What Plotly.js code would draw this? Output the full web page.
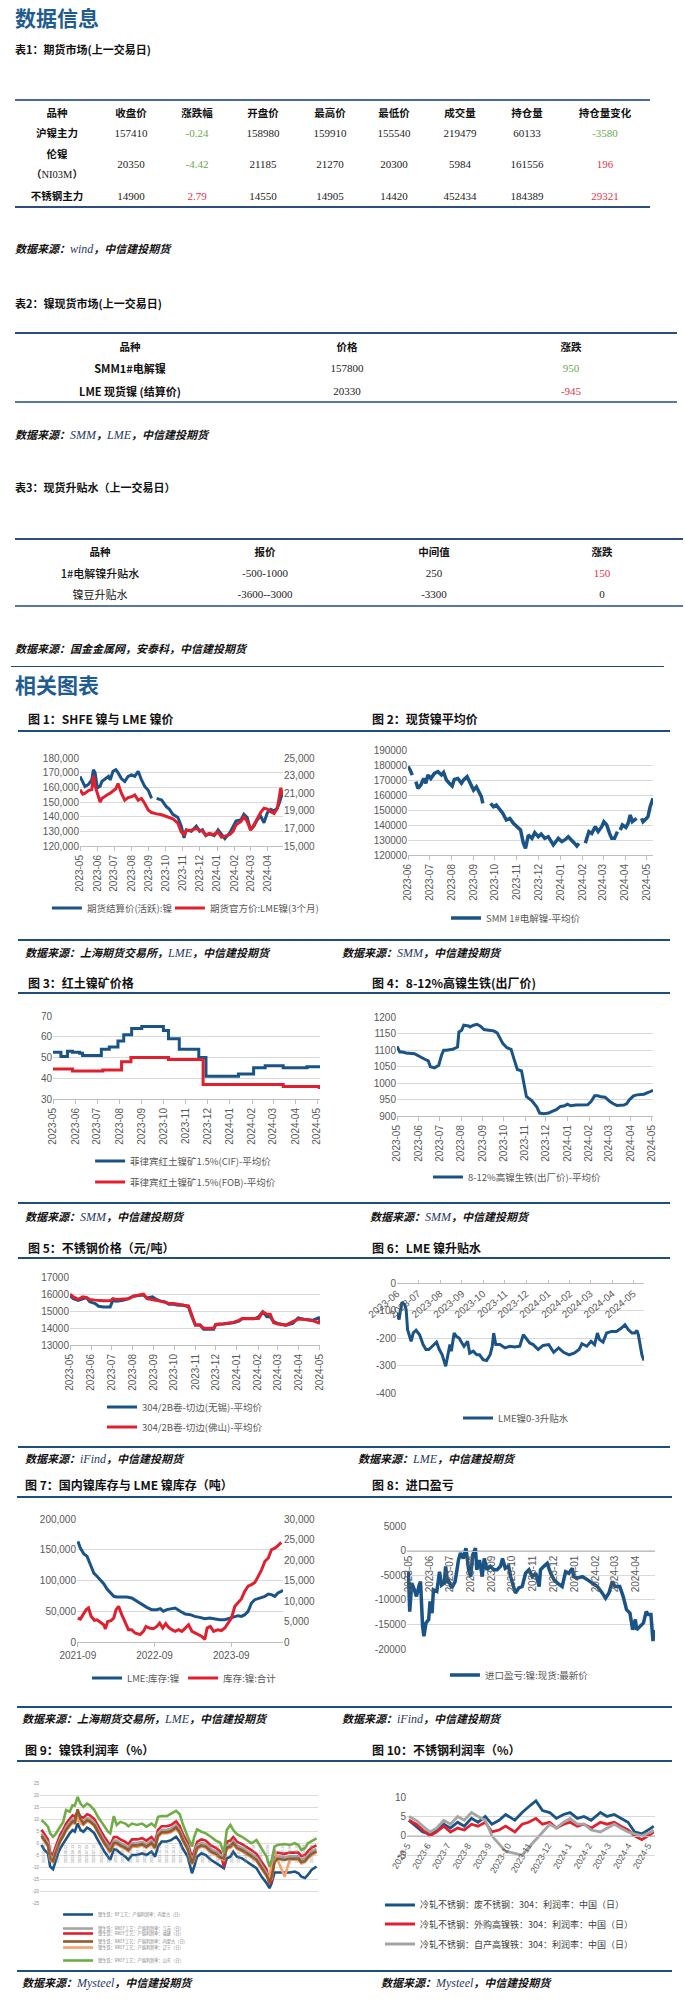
<!DOCTYPE html>
<html><head><meta charset="utf-8">
<script src="https://cdn.plot.ly/plotly-3.0.1.min.js"></script>
<style>
html,body{margin:0;padding:0;background:#fff;}
body{width:685px;height:2005px;position:relative;overflow:hidden;font-family:"Noto Sans CJK SC","Liberation Sans",sans-serif;color:#111;}
.tx{position:absolute;white-space:nowrap;line-height:1;}
.ln{position:absolute;height:0;}
.lat{font-family:"Liberation Serif",serif;font-weight:400;color:#1f3864;font-size:12px;}
.ser{font-family:"Liberation Serif",serif;font-weight:400;}
.chart{position:absolute;}
</style></head>
<body>
<div id="charts"></div>
<script>
// ---------------- table data ----------------
const t1Header = ['品种','收盘价','涨跌幅','开盘价','最高价','最低价','成交量','持仓量','持仓量变化'];
const t1Names  = ['沪镍主力','伦镍','不锈钢主力'];
const t1Close  = [157410, 20350, 14900];
const t1Chg    = ['-0.24', '-4.42', '2.79'];
const t1Open   = [158980, 21185, 14550];
const t1High   = [159910, 21270, 14905];
const t1Low    = [155540, 20300, 14420];
const t1Vol    = [219479, 5984, 452434];
const t1OI     = [60133, 161556, 184389];
const t1OIChg  = [-3580, 196, 29321];

const t2Header = ['品种','价格','涨跌'];
const t2Names  = ['SMM1#电解镍','LME 现货镍 (结算价)'];
const t2Price  = [157800, 20330];
const t2Chg    = [950, -945];

const t3Header = ['品种','报价','中间值','涨跌'];
const t3Names  = ['1#电解镍升贴水','镍豆升贴水'];
const t3Quote  = ['-500-1000','-3600--3000'];
const t3Mid    = [250, -3300];
const t3Chg    = [150, 0];

// ---------------- chart data ----------------
// Fig 1
const fig1Dates = ['2023-05-01','2023-05-06','2023-05-10','2023-05-16','2023-05-22','2023-05-25','2023-05-28','2023-06-01','2023-06-06','2023-06-09','2023-06-15','2023-06-21','2023-06-24','2023-06-29','2023-07-04','2023-07-08','2023-07-14','2023-07-20','2023-07-26','2023-08-01','2023-08-07','2023-08-13','2023-08-19','2023-08-25','2023-08-31','2023-09-06','2023-09-10','2023-09-15','2023-09-24','2023-10-02','2023-10-08','2023-10-14','2023-10-23','2023-10-29','2023-11-03','2023-11-07','2023-11-16','2023-11-25','2023-12-01','2023-12-06','2023-12-12','2023-12-18','2023-12-27','2024-01-03','2024-01-09','2024-01-15','2024-01-24','2024-01-30','2024-02-04','2024-02-13','2024-02-18','2024-02-24','2024-03-01','2024-03-07','2024-03-13','2024-03-19','2024-03-25','2024-03-31','2024-04-06','2024-04-12','2024-04-18','2024-04-21','2024-04-24','2024-04-27'];
const fig1Shfe = [167400,164000,160500,162000,165000,172000,170000, 159700,160800,164000,166000,167500,165000,171000, 172000,170000,166000,164000,167500, 168500,167500,171000,165000,160500,158000, 152500,null,152500,151400, 147000,145000,141600,139400,133600, 125500,131000,130000,133600, 130000,131000,127000,128500,127000, 131000,128000,125000,129000,133600, 137000,138000,141600,139400, 131000,133600,138000,140400,135800,142700, 145000,143800,146000,149000,152500,156000];
const fig1Lme = [21400,20900,21000,21300,21400,23000,21800, 21000,20000,20400,20700,20900,21000,21300, 21500,22100,21000,20200,20500, 20600,20800,20200,20400,19800,19100, 18800,18700,18650,18550, 18400,18200,18100,17600,16600, 16300,16800,16800,17000, 16800,16700,16200,16400,16300, 16600,16000,16100,16300,16700, 17400,17800,18300,17800, 16800,17400,18100,18800,19300,19200, 18900,18700,19300,20500,21600,20800];
const fig1LeftTicks = [120000,130000,140000,150000,160000,170000,180000];
const fig1RightTicks = [15000,17000,19000,21000,23000,25000];

// Fig 2
const fig2Dates = ['2023-06-01','2023-06-04','2023-06-07','2023-06-10','2023-06-12','2023-06-15','2023-06-19','2023-06-23','2023-06-26','2023-06-29','2023-07-03','2023-07-08','2023-07-13','2023-07-18','2023-07-21','2023-07-25','2023-07-29','2023-08-02','2023-08-05','2023-08-10','2023-08-15','2023-08-18','2023-08-23','2023-08-27','2023-09-01','2023-09-05','2023-09-09','2023-09-12','2023-09-14','2023-09-20','2023-09-25','2023-09-29','2023-10-03','2023-10-08','2023-10-12','2023-10-17','2023-10-22','2023-10-27','2023-11-02','2023-11-06','2023-11-10','2023-11-13','2023-11-17','2023-11-22','2023-11-26','2023-12-01','2023-12-05','2023-12-10','2023-12-15','2023-12-22','2023-12-29','2024-01-03','2024-01-08','2024-01-12','2024-01-20','2024-01-24','2024-01-27','2024-02-01','2024-02-05','2024-02-10','2024-02-14','2024-02-19','2024-02-23','2024-02-28','2024-03-02','2024-03-06','2024-03-10','2024-03-13','2024-03-17','2024-03-21','2024-03-23','2024-03-25','2024-03-28','2024-04-02','2024-04-05','2024-04-08','2024-04-11','2024-04-17','2024-04-20','2024-04-24','2024-04-26','2024-05-01','2024-05-03','2024-05-06','2024-05-10'];
const fig2Smm = [179000,176700,173300,null,168900,164400,166700,171000,167800,173300, 171000,174400,175600,173300,175000,170000,167800, 166000,170400,171000,167800,170000,172200,167800, 163300,165500,161000,158900,154400,null,154400,152200, 153300,150000,147800,143300,144400,141100, 138900,136700,127800,124400,133300,131100,134900, 132200,134000,131100,132200,126700,131100, 128900,130400,132200,128200,126000,127800, null,127800,135600,134400,138900,135600,138900, 142200,140000,134400,131100,131100,135600,null,136700,140000, 138400,141100,146700,142200,144400,null,144400,142200, 144400,145600,152200,157800];

// Fig 3
const fig3CifDates = ['2023-05-01','2023-05-12','2023-05-21','2023-05-28','2023-06-07','2023-06-11','2023-07-07','2023-07-18','2023-07-30','2023-08-07','2023-08-18','2023-09-01','2023-10-01','2023-10-08','2023-10-23','2023-11-19','2023-11-29','2024-01-13','2024-02-03','2024-02-19','2024-03-15','2024-04-17','2024-05-05'];
const fig3Cif = [52.5,50.5,53,52.5,52,51,54,55,58,61,64,65,63,59,54,50,41,42,45,46,45,45.5,45.5];
const fig3FobDates = ['2023-05-01','2023-05-28','2023-07-09','2023-08-04','2023-08-17','2023-10-08','2023-11-25','2024-03-15','2024-05-04','2024-05-05'];
const fig3Fob = [44.5,43.5,44,48,50,49,37,36,35.5,35.5];

// Fig 4
const fig4Dates = ['2023-05-01','2023-05-05','2023-05-09','2023-05-14','2023-05-26','2023-06-03','2023-06-10','2023-06-15','2023-06-18','2023-06-24','2023-06-30','2023-07-04','2023-07-07','2023-07-11','2023-07-20','2023-07-27','2023-07-29','2023-08-02','2023-08-05','2023-08-12','2023-08-14','2023-08-19','2023-08-24','2023-08-29','2023-09-03','2023-09-10','2023-09-17','2023-09-22','2023-09-26','2023-09-30','2023-10-06','2023-10-12','2023-10-16','2023-10-21','2023-10-27','2023-10-31','2023-11-03','2023-11-06','2023-11-11','2023-11-18','2023-11-22','2023-11-28','2023-12-05','2023-12-10','2023-12-16','2023-12-22','2023-12-28','2024-01-01','2024-01-06','2024-01-13','2024-01-30','2024-02-04','2024-02-09','2024-02-14','2024-02-18','2024-02-24','2024-02-28','2024-03-02','2024-03-07','2024-03-12','2024-03-22','2024-03-26','2024-03-30','2024-04-05','2024-04-10','2024-04-20','2024-04-27','2024-05-03'];
const fig4Npi = [1111,1094,1094,1091,1089, 1079,1072,1067,1049,1046,1054, 1084,1099,1099,1102,1109,1155, 1160,1175,1173,1170,1175,1178,1172, 1162,1160,1158,1152,1135,1120, 1107,1102,1074,1041,1037,989, 959,954,946,927,909,907, 909,914,919,929,931, 936,931,933,934, 944,961,961,958,957,949, 944,937,932,933,937,949, 961,964,966,972, 978];

// Fig 5
const fig5Dates = ['2023-05-01','2023-05-06','2023-05-13','2023-05-20','2023-05-25','2023-05-30','2023-06-07','2023-06-12','2023-06-19','2023-06-29','2023-07-03','2023-07-08','2023-07-18','2023-07-26','2023-08-02','2023-08-12','2023-08-17','2023-08-22','2023-08-30','2023-09-04','2023-09-11','2023-09-18','2023-09-23','2023-09-30','2023-10-07','2023-10-15','2023-10-22','2023-10-27','2023-11-01','2023-11-08','2023-11-13','2023-11-28','2023-12-01','2023-12-12','2023-12-27','2024-01-04','2024-01-09','2024-01-26','2024-02-02','2024-02-08','2024-02-14','2024-02-19','2024-02-24','2024-03-01','2024-03-13','2024-03-23','2024-03-31','2024-04-08','2024-04-22','2024-04-30','2024-05-02'];
const fig5Wuxi = [15900,15730,15630,15730,15790,15540, 15440,15280,15240,15240, 15630,15580,15630,15730, 15870,15930,15930,15770,15830, 15700,15580,15540,15400,15400, 15340,15340,15240,14660, 14170,14170,13920,13920, 14210,14230,14310, 14410,14560,14540, 14660,14950,14660,14660,14370, 14270,14170,14270,14600, 14520,14460,14600, 14500];
const fig5Foshan = [15990,15830,15680,15830,15780,15680, 15640,15620,15600,15600, 15730,15680,15690,15720, 15870,15930,15990,15730,15650, 15630,15580,15520,15440,15440, 15380,15340,15300,14760, 14170,14170,13980,13980, 14210,14250,14330, 14450,14560,14560, 14560,14950,14810,14810,14310, 14230,14170,14370,14520, 14520,14420,14300, 14500];

// Fig 6
const fig6Dates = ['2023-06-01','2023-06-04','2023-06-06','2023-06-08','2023-06-12','2023-06-14','2023-06-16','2023-06-19','2023-06-21','2023-06-24','2023-06-28','2023-07-03','2023-07-08','2023-07-12','2023-07-16','2023-07-21','2023-07-27','2023-07-31','2023-08-04','2023-08-09','2023-08-12','2023-08-15','2023-08-17','2023-08-21','2023-08-24','2023-08-28','2023-09-01','2023-09-04','2023-09-09','2023-09-12','2023-09-17','2023-09-22','2023-09-26','2023-10-01','2023-10-06','2023-10-11','2023-10-14','2023-10-16','2023-10-19','2023-10-25','2023-11-01','2023-11-08','2023-11-15','2023-11-22','2023-11-27','2023-12-01','2023-12-06','2023-12-11','2023-12-18','2023-12-25','2024-01-02','2024-01-09','2024-01-16','2024-01-23','2024-01-31','2024-02-07','2024-02-14','2024-02-18','2024-02-25','2024-03-02','2024-03-07','2024-03-11','2024-03-14','2024-03-19','2024-03-24','2024-03-31','2024-04-07','2024-04-14','2024-04-19','2024-04-24','2024-04-29','2024-05-03','2024-05-06','2024-05-08','2024-05-10','2024-05-13','2024-05-16'];
const fig6Spread = [-109,-133,-97,-70,-79,-97,-170,-200,-212,-182,-172, -188,-224,-242,-242,-230,-215,-242, -261,-303,-261,-224,-248,-182,-194,-200, -218,-230,-212,-255,-248,-261,-261, -279,-282,-261,-230,-182,-224,-224, -236,-230,-233,-230,-188, -200,-218,-224,-242,-227, -224,-252,-236,-252,-261, -255,-242,-221,-230, -212,-224,-182,-206,-215,-182,-176, -176,-164,-152,-170,-182, -182,-173,-188,-224,-261,-282];
const fig6TickVals = [0,-100,-200,-300,-400];
const fig6TickText = ['0','-100','-200','-300','-400'];

// Fig 7
const fig7LmeDates = ['2021-09-01','2021-09-13','2021-09-29','2021-10-15','2021-10-31','2021-11-16','2021-12-01','2021-12-17','2022-01-02','2022-01-18','2022-02-03','2022-02-19','2022-03-05','2022-03-29','2022-04-22','2022-05-15','2022-06-08','2022-07-02','2022-07-26','2022-08-18','2022-09-12','2022-09-28','2022-10-13','2022-10-29','2022-11-22','2022-12-08','2023-01-01','2023-01-25','2023-02-18','2023-03-11','2023-04-04','2023-04-28','2023-05-21','2023-06-14','2023-07-08','2023-08-01','2023-08-25','2023-09-18','2023-10-03','2023-10-19','2023-11-04','2023-11-20','2023-12-06','2023-12-22','2024-01-07','2024-01-23','2024-02-08','2024-02-24','2024-03-10','2024-03-26','2024-04-10','2024-04-26','2024-05-04'];
const fig7Lme = [163700,152800,143600,139300,125700,112000,106800,101400, 94900,86200,79700,74300,73200,73200,73200,71500,66000,60700,56400,52600,52600,54200,49900,52600,54200,55300, 49900,45500,44400,41700,40100,37900,39000,37400,36300,36300,39000,41700,42800,41700,44400,49900,63400,68800, 70500,71500,74300,78000,77000,74300,79700,82400,84000];
const fig7CnDates = ['2021-09-01','2021-09-13','2021-09-26','2021-10-11','2021-10-22','2021-11-03','2021-11-19','2021-12-01','2021-12-17','2022-01-02','2022-01-10','2022-01-21','2022-02-06','2022-02-19','2022-03-02','2022-03-14','2022-03-29','2022-04-14','2022-04-30','2022-05-15','2022-05-31','2022-06-24','2022-07-10','2022-07-22','2022-08-07','2022-08-26','2022-09-12','2022-09-25','2022-10-10','2022-10-24','2022-11-06','2022-11-22','2022-12-08','2022-12-24','2023-01-09','2023-01-25','2023-02-10','2023-02-26','2023-03-19','2023-04-12','2023-04-28','2023-05-09','2023-05-24','2023-06-09','2023-06-30','2023-07-16','2023-08-01','2023-08-17','2023-09-02','2023-09-18','2023-10-03','2023-10-19','2023-11-04','2023-11-20','2023-12-06','2023-12-22','2024-01-07','2024-01-23','2024-02-08','2024-02-24','2024-03-10','2024-03-26','2024-04-10','2024-04-26'];
const fig7Cn = [5850,5600,6670,7900,8300,6300,5300,5400,4800, 4200,3200,5000,5200,5850,7900,8700,6670,4600,3000,3000,2200,1800,2600,3800,3400,3250,3800,4600,3400,4500,3600,3000,2600,3000, 2600,3400,4200,2600,2000,1400,600,3400,3800,2600,3000,2800,3400,4600,5850,8700,9500,10500,12400,13600,14000,14500, 16000,17600,19700,20500,22500,22900,23500,24300];

// Fig 8
const fig8Dates = ['2023-04-29','2023-05-01','2023-05-03','2023-05-06','2023-05-09','2023-05-13','2023-05-17','2023-05-19','2023-05-22','2023-05-24','2023-05-27','2023-05-31','2023-06-02','2023-06-05','2023-06-07','2023-06-12','2023-06-16','2023-06-19','2023-06-23','2023-06-25','2023-06-28','2023-06-30','2023-07-04','2023-07-09','2023-07-14','2023-07-17','2023-07-21','2023-07-25','2023-07-29','2023-08-01','2023-08-04','2023-08-08','2023-08-10','2023-08-14','2023-08-18','2023-08-21','2023-08-25','2023-08-30','2023-09-04','2023-09-09','2023-09-14','2023-09-17','2023-09-21','2023-09-26','2023-09-29','2023-10-02','2023-10-06','2023-10-11','2023-10-16','2023-10-21','2023-10-26','2023-10-31','2023-11-05','2023-11-10','2023-11-12','2023-11-17','2023-11-22','2023-11-27','2023-12-02','2023-12-07','2023-12-14','2023-12-19','2023-12-24','2023-12-29','2023-12-31','2024-01-05','2024-01-13','2024-01-20','2024-01-28','2024-02-04','2024-02-11','2024-02-16','2024-02-21','2024-02-26','2024-03-01','2024-03-08','2024-03-13','2024-03-18','2024-03-23','2024-03-27','2024-03-31','2024-04-02','2024-04-07','2024-04-12','2024-04-16','2024-04-19','2024-04-23','2024-04-26','2024-04-28'];
const fig8Profit = [-5300,-4300,-12400,-6600,-7600,-9300,-7000,-6300,-15400,-17400,-14700,-14000, -10300,-12700,-8000,-8300,-4300,-7000,-6600,-3200,-6600,-6300, -7600,-6300,-1900,-500,-1600,500,-3900, -5300,-900,500,-3900,-1900,-5300,-1600,-3900,-3200, -3900,-3900,-3200,-1600,-3600,-3200,-5300, -6600,-8600,-7600,-7300,-4600,-3900,-5300, -4600,-7300,-3900,-3200,-2600,-4600, -5900,-6600,-7300,-4300,-4600,-3600,-5300, -5600,-5300,-5900,-6600, -7300,-8600,-9700,-8600,-6300, -7300,-7300,-9300,-12000,-12700,-16100,-14000, -16100,-15400,-14700,-12400,-13000,-13000,-18400,-16100];
const fig8TickVals = [5000,0,-5000,-10000,-15000,-20000];
const fig8TickText = ['5000','0','-5000','-10000','-15000','-20000'];

// Fig 9
const fig9Dates = ['2023-05-01','2023-05-05','2023-05-10','2023-05-13','2023-05-17','2023-05-20','2023-05-24','2023-05-27','2023-05-31','2023-06-04','2023-06-09','2023-06-13','2023-06-16','2023-06-20','2023-06-24','2023-06-28','2023-07-03','2023-07-07','2023-07-13','2023-07-18','2023-07-23','2023-07-27','2023-08-01','2023-08-04','2023-08-09','2023-08-13','2023-08-18','2023-08-25','2023-08-29','2023-09-03','2023-09-10','2023-09-17','2023-09-23','2023-09-30','2023-10-05','2023-10-09','2023-10-14','2023-10-21','2023-10-27','2023-11-03','2023-11-08','2023-11-12','2023-11-19','2023-11-25','2023-11-28','2023-12-02','2023-12-08','2023-12-14','2023-12-21','2023-12-28','2024-01-03','2024-01-08','2024-01-12','2024-01-17','2024-01-21','2024-01-26','2024-02-02','2024-02-08','2024-02-15','2024-02-22','2024-02-29','2024-03-07','2024-03-11','2024-03-14','2024-03-18','2024-03-22','2024-04-01','2024-04-08','2024-04-15','2024-04-20','2024-04-24','2024-04-29','2024-05-03','2024-05-08','2024-05-15'];
const fig9NmRf = [-0.8,-2.9,-4.3,-9.8,-10.9,-7.7,-4.3,-2.2,-0.1,1.9, 4.0,5.4,4.7,8.1,5.4,4.7,6.4,5.7,4.0,1.2, -1.5,-3.6,-5.7,-7.0,-2.6,-2.9,-4.3,-5.7,-7.0,-5.0, -5.0,-4.3,-5.0,-3.6,-5.7,-1.5,0.6,0.6,1.2,2.6, 0.6,-2.2,-5.7,-12.6,-9.8,-5.7,-4.3,-5.0,-7.0,-8.4, -9.8,-10.5,-6.4,-5.7,-3.6,-5.7,-6.4,-7.7,-9.1,-10.5, -14.0,-16.7,-18.8,-16.7,-12.3,-12.3,-12.6,-12.3,-11.9,-12.6, -14.0,-14.6,-13.3,-11.2,-9.8];
const fig9Fj = [5.5,3.5,1.5,-4,-5,-2,1.5,3.5,5.5,8, 10,11.5,11,13,11,10.5,12,11.5,10,7, 4.5,2.5,0.5,-1,2.5,2.5,1.5,0.5,-0.5,1.5, 1.5,2,1,2.5,0.5,5.5,7,7,7.5,9, 7,4,0,-6,-3.5,0.5,1.5,1,-1,-2, -3.5,-10,0.5,1,2.5,0.5,-0.5,-1.5,-3,-4.5, -8,-11,-17,-16,-5,-4,-4.5,-4,-4,-4, -5.5,-5,-3.5,-2,-1];
const fig9Js = [4,2,0,-5.5,-6.5,-3.5,0,2,4,6.5, 8.5,10,9.5,11.5,9.5,9,10.5,10,8.5,5.5, 3,1,-1,-2.5,1,1,0,-1,-2,0, 0,0.5,-0.5,1,-1,4,5.5,5.5,6,7.5, 5.5,2.5,-1.5,-7.5,-5,-1,0,-0.5,-2.5,-3.5, -5,-5.5,-1,-0.5,1,-1,-2,-3,-4.5,-6, -9.5,-12.5,-16,-15,-7,-5.5,-6,-5.5,-5.5,-5.5, -7,-6.5,-5,-3.5,-2.5];
const fig9Ln = [2.5,0.5,-1.5,-7,-8,-5,-1.5,0.5,2.5,5, 7,8.5,8,10,8,7.5,9,8.5,7,4, 1.5,-0.5,-2.5,-4,-0.5,-0.5,-1.5,-2.5,-3.5,-1.5, -1.5,-1,-2,-0.5,-2.5,2.5,4,4,4.5,6, 4,1,-3,-9,-6.5,-2.5,-1.5,-2,-4,-5, -6.5,-7,-2.5,-2,-0.5,-2.5,-3.5,-4.5,-6,-7.5, -11,-14,-15,-8,-3,-7,-14,-7,-7,-7, -8.5,-8,-6.5,-5,-4];
const fig9NmRkef = [3,1,-1,-6.5,-7.5,-4.5,-1,1,3,5.5, 7.5,9,8.5,14,10,8,9.5,9,7.5,4.5, 2,0,-2,-3.5,0,0,-1,-2,-3,-1, -1,-0.5,-1.5,0,-2,3,4.5,4.5,5,6.5, 4.5,1.5,-2.5,-8.5,-6,-2,-1,-1.5,-3.5,-4.5, -6,-6.5,-2,-1.5,0,-2,-3,-4,-5.5,-7, -10.5,-13.5,-16.5,-14,-8,-6.5,-7,-6.5,-6.5,-6.5, -8,-7.5,-6,-4.5,-3.5];
const fig9Sd = [9.5,8.5,6.8,4.0,2.6,3.5,5.4,7.0,8.8,13.7, 13.0,15.7,15.5,19.2,16.4,15.0,16.4,15.7,13.7,10.9, 8.8,6.8,4.7,4.0,11.2,7.5,8.8,8.1,7.0,8.1, 7.5,8.1,6.8,8.1,6.8,10.9,11.2,11.2,12.3,13.4, 12.0,8.1,2.6,-1.5,2.6,5.7,4.7,4.0,2.6,1.0, 0.1,-4.3,5.4,7.5,5.4,3.7,2.6,1.2,-0.1,1.2, -2.2,-5.7,-9.8,-7.0,-1.5,-0.8,-0.4,-0.8,-0.1,-0.8, -2.9,-2.2,-0.1,0.6,1.9];
const fig9Names = ['镍生铁：BF工艺：产值利润率：内蒙古（日）','镍生铁：RKEF工艺：产值利润率：福建（日）','镍生铁：RKEF工艺：产值利润率：江苏（日）','镍生铁：RKEF工艺：产值利润率：辽宁（日）','镍生铁：RKEF工艺：产值利润率：内蒙古（日）','镍生铁：RKEF工艺：产值利润率：山东（日）'];
const fig9TickVals = [25,20,15,10,5,0,-5,-10,-15,-20,-25];
const fig9TickText = ['25','20','15','10','5','0','-5','-10','-15','-20','-25'];

// Fig 10
const fig10Dates = ['2023-05-04','2023-05-15','2023-05-25','2023-06-05','2023-06-15','2023-06-26','2023-07-06','2023-07-17','2023-07-27','2023-08-07','2023-08-17','2023-08-28','2023-09-07','2023-09-18','2023-09-28','2023-10-12','2023-10-23','2023-11-02','2023-11-13','2023-11-23','2023-12-04','2023-12-14','2023-12-25','2024-01-04','2024-01-15','2024-01-25','2024-02-05','2024-02-19','2024-02-29','2024-03-11','2024-03-21','2024-04-01','2024-04-11','2024-04-22','2024-05-06','2024-05-10'];
const fig10Scrap = [4,2.5,1,0.5,1.5,3,2,3.5,2.5,4.5, 3.5,5,3,4,5.5,4,6,7.5,9,6.5, 6,4.5,5.5,6,4.5,5,4,6,5,5.5, 4.5,3.5,1,0.5,2,2.5];
const fig10Bought = [4,3,1.5,0,1,2.5,1,2,1.5,3, 2.5,3.5,1,1.5,2.5,1,3,3.5,4.5,3, 3.5,2,3,3.5,2.5,3,2,3.5,3,3.5, 2.5,1.5,0,-1,0.5,1];
const fig10Own = [5,4,2.5,1,2,4,3,5,4,6, 5,4,0,-2,-4,-4.5,-5,-3,-1,1, 3,2,3.5,4.5,3,3,1.5,1,2,3, 2,1,0.5,0,1,1.5];
const fig10Names = ['冷轧不锈钢：废不锈钢：304：利润率：中国（日）','冷轧不锈钢：外购高镍铁：304：利润率：中国（日）','冷轧不锈钢：自产高镍铁：304：利润率：中国（日）'];
const fig10TickVals = [10,5,0,-5];
const fig10TickText = ['10','5','0','-5'];

// ---------------- styles ----------------
const BLUE = '#1a5486', RED = '#e0202e', GRAY = '#a5a5a5', ORANGE = '#f6a06a', BROWN = '#93582b', GREEN = '#70ad47';
const UP = '#e0344a', DOWN = '#6aa84f';
const FONT = '"Liberation Sans", "Noto Sans CJK SC", sans-serif';
const CJK = '"Noto Sans CJK SC", "Liberation Sans", sans-serif';

// ---------------- html helpers ----------------
function T(x, y, html, o) {
  o = o || {};
  const d = document.createElement('div');
  d.className = 'tx';
  d.style.left = x + 'px';
  d.style.top = y + 'px';
  d.style.fontSize = (o.size || 11) + 'px';
  d.style.fontWeight = o.weight || 400;
  if (o.color) d.style.color = o.color;
  if (o.family) d.style.fontFamily = o.family;
  if (o.italic) d.style.fontStyle = 'italic';
  d.style.transform = o.center ? 'translate(-50%,-50%)' : 'translate(0,-50%)';
  d.innerHTML = html;
  document.body.appendChild(d);
}
function L(x1, x2, y, w, c) {
  const d = document.createElement('div');
  d.className = 'ln';
  d.style.left = x1 + 'px';
  d.style.width = (x2 - x1) + 'px';
  d.style.top = (y - w / 2) + 'px';
  d.style.borderTop = w + 'px solid ' + c;
  document.body.appendChild(d);
}
function lat(s) { return '<span class="lat">' + s + '</span>'; }
function SRC(x, y, html) { T(x, y, html, {size: 11, weight: 700, italic: true, color: '#111'}); }
function ser(v) { return '<span class="ser">' + v + '</span>'; }
const HEAD = {size: 10.5, weight: 700, center: true};
const VAL = {size: 11, center: true, family: '"Liberation Serif", serif', color: '#222'};

// headings
T(15, 17, '数据信息', {size: 21, weight: 700, color: '#1f5c8f'});
T(15, 49, '表1：期货市场(上一交易日)', {size: 11, weight: 700});

// table 1
const t1ColX = [57, 131, 197, 263, 330, 394, 460, 527, 605];
L(15, 650, 100, 2.5, '#4a6a98');
L(15, 650, 207, 2.5, '#2d4f80');
t1Header.forEach((h, i) => T(t1ColX[i], 113, h, HEAD));
const t1RowY = [133, 164, 196];
T(t1ColX[0], 133, t1Names[0], HEAD);
T(t1ColX[0], 154, t1Names[1], HEAD);
T(t1ColX[0], 175, '（' + ser('NI03M') + '）', {size: 10.5, weight: 700, center: true});
T(t1ColX[0], 196, t1Names[2], HEAD);
t1RowY.forEach((y, r) => {
  const chgC = parseFloat(t1Chg[r]) < 0 ? DOWN : UP;
  const oiC = t1OIChg[r] < 0 ? DOWN : UP;
  T(t1ColX[1], y, t1Close[r], VAL);
  T(t1ColX[2], y, t1Chg[r], Object.assign({}, VAL, {color: chgC}));
  T(t1ColX[3], y, t1Open[r], VAL);
  T(t1ColX[4], y, t1High[r], VAL);
  T(t1ColX[5], y, t1Low[r], VAL);
  T(t1ColX[6], y, t1Vol[r], VAL);
  T(t1ColX[7], y, t1OI[r], VAL);
  T(t1ColX[8], y, t1OIChg[r], Object.assign({}, VAL, {color: oiC}));
});
SRC(15, 249, '数据来源：' + lat('wind') + '，中信建投期货');

// table 2
T(15, 303, '表2：镍现货市场(上一交易日)', {size: 11, weight: 700});
const t2ColX = [130, 347, 571];
const t2ChgColors = [DOWN, UP];
L(15, 677, 333, 2.5, '#2d4f80');
L(15, 677, 402, 2.5, '#5a78a6');
t2Header.forEach((h, i) => T(t2ColX[i], 347, h, HEAD));
[368, 391].forEach((y, r) => {
  T(t2ColX[0], y, t2Names[r], {size: 11, weight: 700, center: true});
  T(t2ColX[1], y, t2Price[r], VAL);
  T(t2ColX[2], y, t2Chg[r], Object.assign({}, VAL, {color: t2ChgColors[r]}));
});
SRC(15, 435, '数据来源：' + lat('SMM') + '，' + lat('LME') + '，中信建投期货');

// table 3
T(15, 487, '表3：现货升贴水（上一交易日）', {size: 11, weight: 700});
const t3ColX = [100, 265, 434, 602];
const t3ChgColors = [UP, '#222'];
L(15, 683, 539, 2.5, '#2d4f80');
L(15, 683, 606, 2.5, '#5a78a6');
t3Header.forEach((h, i) => T(t3ColX[i], 552, h, HEAD));
[573, 594].forEach((y, r) => {
  T(t3ColX[0], y, t3Names[r], {size: 11, weight: r === 0 ? 500 : 400, center: true});
  T(t3ColX[1], y, t3Quote[r], VAL);
  T(t3ColX[2], y, t3Mid[r], VAL);
  T(t3ColX[3], y, t3Chg[r], Object.assign({}, VAL, {color: t3ChgColors[r]}));
});
SRC(15, 648, '数据来源：国金金属网，安泰科，中信建投期货');
L(11, 664, 667, 1.5, '#1f4e79');
T(15, 684, '相关图表', {size: 21, weight: 700, color: '#1f5c8f'});

// chart frame texts
const TT = {size: 12, weight: 700, color: '#111'};
const LINE = '#1f4e79';
T(28, 719, '图 1：SHFE 镍与 LME 镍价', TT);
T(372, 719, '图 2：现货镍平均价', TT);
L(18, 670, 731, 2.2, LINE);
L(18, 670, 940, 2.2, LINE);
SRC(25, 953, '数据来源：上海期货交易所，' + lat('LME') + '，中信建投期货');
SRC(342, 953, '数据来源：' + lat('SMM') + '，中信建投期货');

T(28, 983, '图 3：红土镍矿价格', TT);
T(372, 983, '图 4：8-12%高镍生铁(出厂价)', TT);
L(18, 670, 993, 2.2, LINE);
L(18, 670, 1203, 2.2, LINE);
SRC(25, 1217, '数据来源：' + lat('SMM') + '，中信建投期货');
SRC(370, 1217, '数据来源：' + lat('SMM') + '，中信建投期货');

T(28, 1248, '图 5：不锈钢价格（元/吨）', TT);
T(372, 1248, '图 6：LME 镍升贴水', TT);
L(18, 670, 1258, 2.2, LINE);
L(18, 670, 1447, 2.2, LINE);
SRC(25, 1459, '数据来源：' + lat('iFind') + '，中信建投期货');
SRC(358, 1459, '数据来源：' + lat('LME') + '，中信建投期货');

T(25, 1485, '图 7：国内镍库存与 LME 镍库存（吨）', TT);
T(372, 1485, '图 8：进口盈亏', TT);
L(17, 672, 1497, 2.2, LINE);
L(17, 672, 1707, 2.2, LINE);
SRC(22, 1719, '数据来源：上海期货交易所，' + lat('LME') + '，中信建投期货');
SRC(342, 1719, '数据来源：' + lat('iFind') + '，中信建投期货');

T(25, 1750, '图 9：镍铁利润率（%）', TT);
T(372, 1750, '图 10：不锈钢利润率（%）', TT);
L(17, 672, 1761, 2.2, LINE);
L(17, 672, 1971, 2.2, LINE);
SRC(22, 1983, '数据来源：' + lat('Mysteel') + '，中信建投期货');
SRC(381, 1983, '数据来源：' + lat('Mysteel') + '，中信建投期货');

// ---------------- plotly helpers ----------------
const tickF = {family: FONT, size: 10, color: '#595959'};
const legF = {family: CJK, size: 9.5, color: '#595959'};
function yax(o) {
  return Object.assign({showgrid: true, gridcolor: '#d9d9d9', gridwidth: 1, zeroline: false,
    showline: false, ticks: '', tickfont: tickF, fixedrange: true, automargin: false}, o);
}
function xax(o) {
  return Object.assign({type: 'date', showgrid: false, zeroline: false, showline: true,
    linecolor: '#bfbfbf', linewidth: 1, ticks: 'outside', ticklen: 4, tickcolor: '#bfbfbf',
    tickfont: tickF, dtick: 'M1', tickformat: '%Y-%m', tickangle: -90, automargin: false}, o);
}
function leg(x, y, o) {
  return Object.assign({orientation: 'h', x: x, y: y, xanchor: 'left', yanchor: 'middle',
    font: legF, bgcolor: 'rgba(0,0,0,0)', borderwidth: 0, traceorder: 'normal'}, o);
}
function line(x, y, name, color, w, o) {
  return Object.assign({type: 'scatter', mode: 'lines', x: x, y: y, name: name,
    line: {color: color, width: w}, connectgaps: false, hoverinfo: 'skip'}, o);
}
function chart(id, box, m, data, layout) {
  const d = document.createElement('div');
  d.id = id; d.className = 'chart';
  d.style.left = box[0] + 'px'; d.style.top = box[1] + 'px';
  d.style.width = box[2] + 'px'; d.style.height = box[3] + 'px';
  document.getElementById('charts').appendChild(d);
  layout.width = box[2]; layout.height = box[3];
  layout.margin = {l: m[0], r: m[1], t: m[2], b: m[3], pad: 0, autoexpand: false};
  layout.paper_bgcolor = 'rgba(0,0,0,0)';
  layout.plot_bgcolor = 'rgba(0,0,0,0)';
  layout.font = {family: FONT, size: 10, color: '#595959'};
  layout.showlegend = true;
  Plotly.newPlot(d, data, layout, {staticPlot: true, displayModeBar: false});
}

// Fig 1
chart('fig1', [0, 735, 340, 200], [80, 57, 23, 89], [
  line(fig1Dates, fig1Shfe, '期货结算价(活跃):镍', BLUE, 3),
  line(fig1Dates, fig1Lme, '期货官方价:LME镍(3个月)', RED, 3, {yaxis: 'y2', legend: 'legend2'})
], {
  xaxis: xax({range: ['2023-05-01', '2024-04-28'], tick0: '2023-05-01'}),
  yaxis: yax({range: [120000, 180000], tickvals: fig1LeftTicks, tickformat: ',.0f'}),
  yaxis2: yax({range: [15000, 25000], tickvals: fig1RightTicks, tickformat: ',.0f', overlaying: 'y', side: 'right', showgrid: false}),
  legend: leg(-0.163, -0.705),
  legend2: leg(0.443, -0.705)
});

// Fig 2
chart('fig2', [340, 735, 340, 200], [68, 27, 15, 80], [
  line(fig2Dates, fig2Smm, 'SMM 1#电解镍-平均价', BLUE, 3.5)
], {
  xaxis: xax({range: ['2023-06-01', '2024-05-10'], tick0: '2023-06-01'}),
  yaxis: yax({range: [120000, 190000], dtick: 10000, tickformat: 'd'}),
  legend: leg(0.155, -0.6)
});

// Fig 3
chart('fig3', [0, 995, 340, 197], [53, 20, 21, 93], [
  line(fig3CifDates, fig3Cif, '菲律宾红土镍矿1.5%(CIF)-平均价', BLUE, 3, {line: {color: BLUE, width: 3, shape: 'hv'}}),
  line(fig3FobDates, fig3Fob, '菲律宾红土镍矿1.5%(FOB)-平均价', RED, 3, {line: {color: RED, width: 3, shape: 'hv'}, legend: 'legend2'})
], {
  xaxis: xax({range: ['2023-05-01', '2024-05-05'], tick0: '2023-05-01'}),
  yaxis: yax({range: [30, 70], dtick: 10}),
  legend: leg(0.139, -0.747),
  legend2: leg(0.139, -1.0)
});

// Fig 4
chart('fig4', [340, 995, 340, 197], [57, 27, 22, 76], [
  line(fig4Dates, fig4Npi, '8-12%高镍生铁(出厂价)-平均价', BLUE, 3)
], {
  xaxis: xax({range: ['2023-05-01', '2024-05-03'], tick0: '2023-05-01'}),
  yaxis: yax({range: [900, 1200], dtick: 50}),
  legend: leg(0.121, -0.616)
});

// Fig 5
chart('fig5', [0, 1262, 340, 178], [70, 20, 15, 95], [
  line(fig5Dates, fig5Wuxi, '304/2B卷-切边(无锡)-平均价', BLUE, 3),
  line(fig5Dates, fig5Foshan, '304/2B卷-切边(佛山)-平均价', RED, 3, {legend: 'legend2'})
], {
  xaxis: xax({range: ['2023-05-01', '2024-05-02'], tick0: '2023-05-01'}),
  yaxis: yax({range: [13000, 17000], dtick: 1000, tickformat: 'd'}),
  legend: leg(0.128, -0.912),
  legend2: leg(0.128, -1.206)
});

// Fig 6
chart('fig6', [340, 1262, 340, 178], [57, 36, 21, 47], [
  line(fig6Dates, fig6Spread, 'LME镍0-3升贴水', BLUE, 3)
], {
  xaxis: xax({range: ['2023-06-01', '2024-05-16'], tick0: '2023-06-01', anchor: 'free', position: 1,
    side: 'bottom', tickangle: -40, ticks: 'inside', ticklen: 3}),
  yaxis: yax({range: [-400, 0], tickvals: fig6TickVals, ticktext: fig6TickText}),
  legend: leg(0.247, -0.227)
});

// Fig 7
chart('fig7', [0, 1500, 340, 190], [77, 57, 19, 48], [
  line(fig7LmeDates, fig7Lme, 'LME:库存:镍', BLUE, 3),
  line(fig7CnDates, fig7Cn, '库存:镍:合计', RED, 3, {yaxis: 'y2', legend: 'legend2'})
], {
  xaxis: xax({range: ['2021-08-28', '2024-05-04'], tick0: '2021-09-01', dtick: 'M12', tickangle: 0, ticklen: 4}),
  yaxis: yax({range: [0, 200000], dtick: 50000, tickformat: ',.0f'}),
  yaxis2: yax({range: [0, 30000], dtick: 5000, tickformat: ',.0f', overlaying: 'y', side: 'right', showgrid: false}),
  legend: leg(0.0485, -0.293),
  legend2: leg(0.515, -0.293)
});

// Fig 8
chart('fig8', [340, 1500, 340, 190], [67, 25, 26, 41], [
  line(fig8Dates, fig8Profit, '进口盈亏:镍:现货:最新价', BLUE, 3.5)
], {
  xaxis: xax({range: ['2023-04-29', '2024-04-29'], tick0: '2023-05-01', anchor: 'free', position: 0.8,
    side: 'bottom', ticks: '', showline: true}),
  yaxis: yax({range: [-20000, 5000], tickvals: fig8TickVals, ticktext: fig8TickText}),
  legend: leg(0.153, -0.211)
});

// Fig 9
const tinyF = {family: CJK, size: 4.2, color: '#7f7f7f'};
chart('fig9', [0, 1764, 340, 204], [40, 22, 19, 65], [
  line(fig9Dates, fig9NmRf, fig9Names[0], BLUE, 2.6),
  line(fig9Dates, fig9Fj, fig9Names[1], RED, 2.6),
  line(fig9Dates, fig9Js, fig9Names[2], GRAY, 2.6, {legend: 'legend2'}),
  line(fig9Dates, fig9Ln, fig9Names[3], ORANGE, 2.6, {legend: 'legend2'}),
  line(fig9Dates, fig9NmRkef, fig9Names[4], BROWN, 2.6, {legend: 'legend3'}),
  line(fig9Dates, fig9Sd, fig9Names[5], GREEN, 2.6, {legend: 'legend3'})
], {
  xaxis: xax({range: ['2023-04-29', '2024-05-17'], tick0: '2023-05-04', dtick: 10 * 86400000,
    tickformat: '%Y-%m-%d', anchor: 'free', position: 0.5, side: 'bottom', ticks: '',
    showline: false, tickfont: {family: FONT, size: 3.6, color: '#8c8c8c'}}),
  yaxis: yax({range: [-25, 25], tickvals: fig9TickVals, ticktext: fig9TickText,
    tickfont: {family: FONT, size: 4.5, color: '#8c8c8c'}, gridcolor: '#dcdcdc'}),
  legend: leg(0.065, -0.175, {font: tinyF, entrywidth: 119, entrywidthmode: 'pixels'}),
  legend2: leg(0.065, -0.292, {font: tinyF, entrywidth: 119, entrywidthmode: 'pixels'}),
  legend3: leg(0.065, -0.4, {font: tinyF, entrywidth: 119, entrywidthmode: 'pixels'})
});

// Fig 10
const f10F = {family: CJK, size: 9, color: '#404040'};
chart('fig10', [340, 1764, 340, 204], [67, 25, 33, 103], [
  line(fig10Dates, fig10Scrap, fig10Names[0], BLUE, 2.8),
  line(fig10Dates, fig10Bought, fig10Names[1], RED, 2.8, {legend: 'legend2'}),
  line(fig10Dates, fig10Own, fig10Names[2], GRAY, 2.8, {legend: 'legend3'})
], {
  xaxis: xax({range: ['2023-05-01', '2024-05-12'], tick0: '2023-05-01', tickformat: '%Y-%-m',
    anchor: 'free', position: 7.5 / 17.5, side: 'bottom', ticks: '', tickangle: -60,
    tickfont: {family: FONT, size: 9, color: '#595959'}}),
  yaxis: yax({range: [-7.5, 10], tickvals: fig10TickVals, ticktext: fig10TickText}),
  legend: leg(-0.109, -0.588, {font: f10F}),
  legend2: leg(-0.109, -0.868, {font: f10F}),
  legend3: leg(-0.109, -1.162, {font: f10F})
});
</script>
</body></html>
